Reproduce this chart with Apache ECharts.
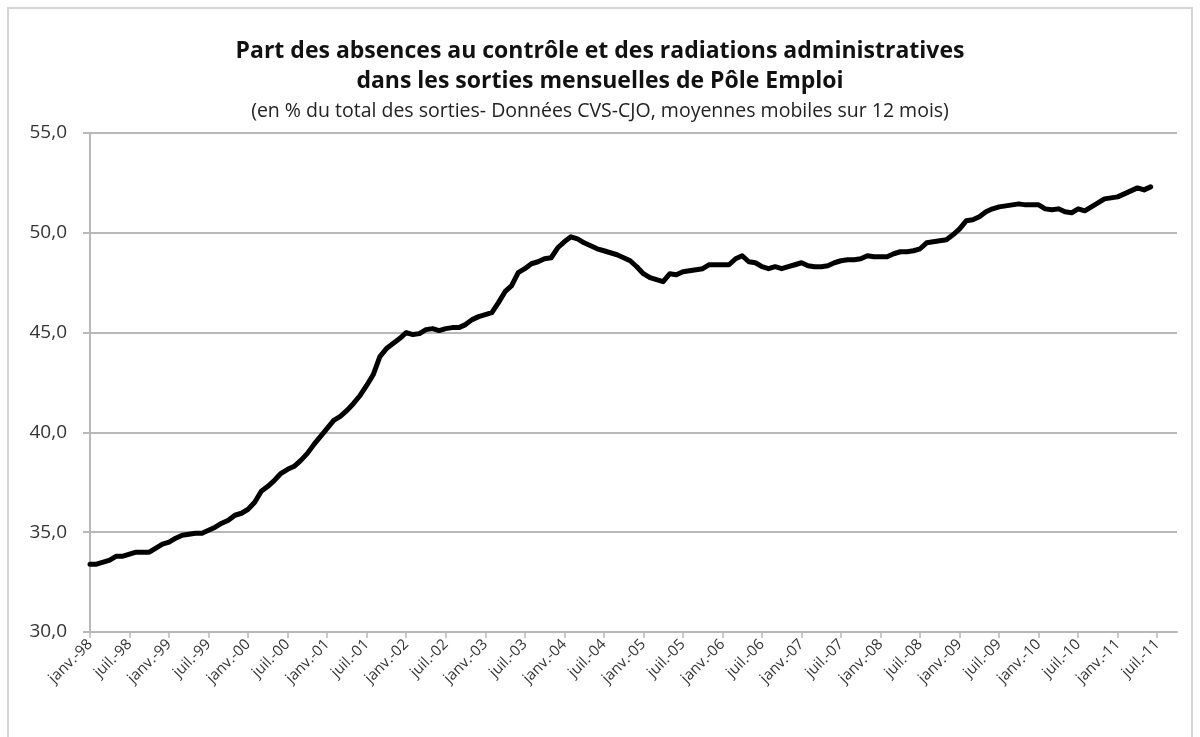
<!DOCTYPE html>
<html>
<head>
<meta charset="utf-8">
<script src="https://cdn.jsdelivr.net/npm/echarts@6/dist/echarts.min.js"></script>
<style>
  html, body { margin: 0; padding: 0; background: #fff; }
  #chart { width: 1200px; height: 737px; }
</style>
</head>
<body>
<div id="chart"></div>
<script>
// mois de janv.-98 à oct.-11 (l'axe va un peu plus loin que les données)
var moisNoms = ['janv.', 'févr.', 'mars', 'avr.', 'mai', 'juin', 'juil.', 'août', 'sept.', 'oct.', 'nov.', 'déc.'];
var annees = ['98', '99', '00', '01', '02', '03', '04', '05', '06', '07', '08', '09', '10', '11'];

// part (%) par année, valeurs mensuelles
var v1998 = [33.4, 33.4, 33.5, 33.6, 33.8, 33.8, 33.9, 34.0, 34.0, 34.0, 34.2, 34.4];
var v1999 = [34.5, 34.7, 34.85, 34.9, 34.95, 34.95, 35.1, 35.25, 35.45, 35.6, 35.85, 35.95];
var v2000 = [36.15, 36.5, 37.05, 37.3, 37.6, 37.95, 38.15, 38.3, 38.6, 38.95, 39.4, 39.8];
var v2001 = [40.2, 40.6, 40.8, 41.1, 41.45, 41.85, 42.35, 42.9, 43.8, 44.2, 44.45, 44.7];
var v2002 = [45.0, 44.9, 44.95, 45.15, 45.2, 45.1, 45.2, 45.25, 45.25, 45.4, 45.65, 45.8];
var v2003 = [45.9, 46.0, 46.5, 47.05, 47.35, 48.0, 48.2, 48.45, 48.55, 48.7, 48.75, 49.25];
var v2004 = [49.55, 49.8, 49.7, 49.5, 49.35, 49.2, 49.1, 49.0, 48.9, 48.75, 48.6, 48.3];
var v2005 = [47.95, 47.75, 47.65, 47.55, 47.95, 47.9, 48.05, 48.1, 48.15, 48.2, 48.4, 48.4];
var v2006 = [48.4, 48.4, 48.7, 48.85, 48.55, 48.5, 48.3, 48.2, 48.3, 48.2, 48.3, 48.4];
var v2007 = [48.5, 48.35, 48.3, 48.3, 48.35, 48.5, 48.6, 48.65, 48.65, 48.7, 48.85, 48.8];
var v2008 = [48.8, 48.8, 48.95, 49.05, 49.05, 49.1, 49.2, 49.5, 49.55, 49.6, 49.65, 49.9];
var v2009 = [50.2, 50.6, 50.65, 50.8, 51.05, 51.2, 51.3, 51.35, 51.4, 51.45, 51.4, 51.4];
var v2010 = [51.4, 51.2, 51.15, 51.2, 51.05, 51.0, 51.2, 51.1, 51.3, 51.5, 51.7, 51.75];
var v2011 = [51.8, 51.95, 52.1, 52.25, 52.15, 52.3];

var valeurs = [].concat(v1998, v1999, v2000, v2001, v2002, v2003, v2004,
                        v2005, v2006, v2007, v2008, v2009, v2010, v2011);

var categories = [];
for (var a = 0; a < annees.length; a++) {
    for (var m = 0; m < 12; m++) {
        if (annees[a] === '11' && m > 9) break;
        categories.push(moisNoms[m] + '-' + annees[a]);
    }
}

var dom = document.getElementById('chart');
var myChart = echarts.init(dom);

var option = {
    animation: false,
    backgroundColor: '#fff',
    graphic: [{
        type: 'rect',
        shape: { x: 8, y: 8, width: 1184, height: 740 },
        style: { fill: 'none', stroke: '#d6d6d6', lineWidth: 2 },
        silent: true
    }],
    title: [{
        text: 'Part des absences au contrôle et des radiations administratives\ndans les sorties mensuelles de Pôle Emploi',
        left: 'center',
        top: 31,
        textStyle: {
            fontFamily: 'Open Sans',
            fontSize: 23,
            fontWeight: 'bold',
            color: '#111',
            lineHeight: 30
        }
    }, {
        text: '(en % du total des sorties- Données CVS-CJO, moyennes mobiles sur 12 mois)',
        left: 'center',
        top: 96,
        textStyle: {
            fontFamily: 'Open Sans',
            fontSize: 19.5,
            fontWeight: 'normal',
            color: '#222'
        }
    }],
    grid: {
        left: 90,
        right: 23,
        top: 133,
        bottom: 105
    },
    xAxis: {
        type: 'category',
        data: categories,
        boundaryGap: false,
        axisLine: { lineStyle: { color: '#b8b8b8', width: 2 } },
        axisTick: {
            interval: 5,
            length: 6,
            lineStyle: { color: '#b8b8b8', width: 1.5 }
        },
        axisLabel: {
            interval: 5,
            rotate: 45,
            margin: 10,
            fontFamily: 'Open Sans',
            fontSize: 15,
            color: '#333'
        },
        splitLine: { show: false }
    },
    yAxis: {
        type: 'value',
        min: 30,
        max: 55,
        interval: 5,
        axisLine: { show: true, lineStyle: { color: '#b8b8b8', width: 2 } },
        axisTick: { show: true, length: 7, lineStyle: { color: '#b8b8b8', width: 2 } },
        axisLabel: {
            margin: 23,
            fontFamily: 'Open Sans',
            fontSize: 19,
            color: '#333',
            formatter: function (v) { return v.toFixed(1).replace('.', ','); }
        },
        splitLine: { lineStyle: { color: '#b8b8b8', width: 2 } }
    },
    series: [{
        type: 'line',
        data: valeurs,
        symbol: 'none',
        smooth: false,
        lineStyle: { color: '#000', width: 5, cap: 'round', join: 'round' }
    }]
};

myChart.setOption(option);
</script>
</body>
</html>
